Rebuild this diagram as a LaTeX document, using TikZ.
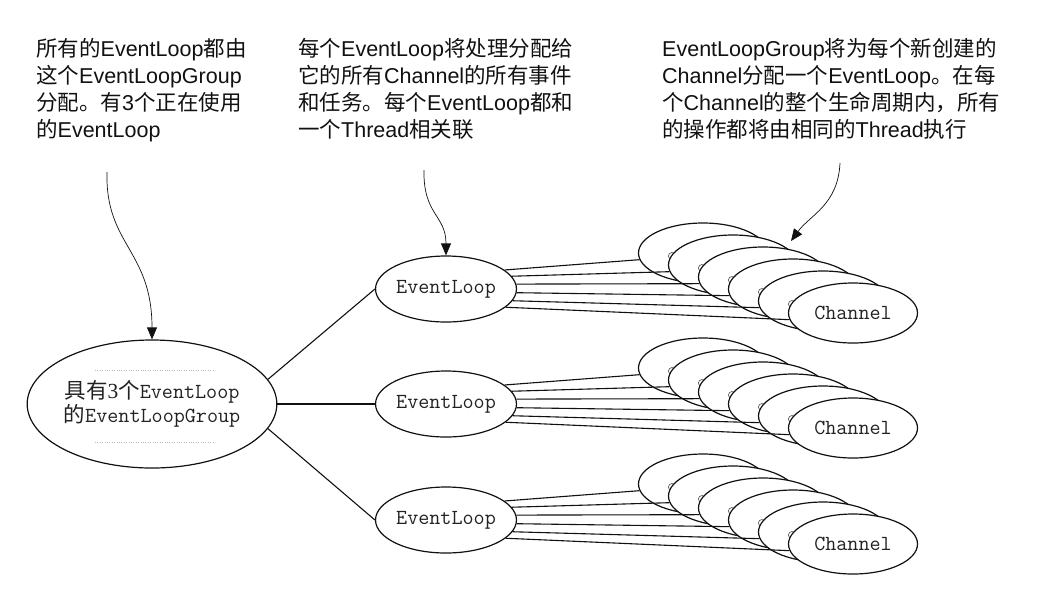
\documentclass[tikz,border=0pt]{standalone}
\usepackage{fontspec}
\setmainfont{Liberation Sans}
\newfontfamily\zhfont{Noto Sans CJK SC}
\newfontfamily\serfont{Liberation Serif}
\usetikzlibrary{positioning,arrows.meta,calc,shapes.geometric}
\newcommand{\zh}[1]{{\zhfont #1}}
\newcommand{\notesize}{\fontsize{21.5}{27}\selectfont}
\newcommand{\monosize}{\fontsize{21.5}{24}\selectfont\ttfamily}
\definecolor{cInk}{HTML}{111111}
\definecolor{cMono}{HTML}{222222}
\definecolor{cFaint}{HTML}{BBBBBB}

\begin{document}
\begin{tikzpicture}[x=1pt,y=-1pt,
    note/.style={anchor=north west,align=left,inner sep=0pt,font=\notesize,text=cInk},
    grpbox/.style={draw=cInk,ellipse,line width=1.2pt,minimum width=244pt,
                   minimum height=128pt,inner sep=0pt,align=center,font=\monosize,text=cMono},
    loopbox/.style={draw=cInk,ellipse,fill=white,line width=1.2pt,minimum width=124pt,
                    minimum height=66pt,inner sep=0pt,font=\monosize,text=cMono},
    chbox/.style={draw=cInk,ellipse,fill=white,line width=1.2pt,minimum width=129pt,
                  minimum height=60pt,inner sep=0pt,font=\monosize,text=cMono},
    link/.style={draw=cInk,line width=1.1pt},
    pointer/.style={draw=cInk,line width=0.7pt,-{Triangle[length=12pt,width=10pt]}}]
  \useasboundingbox (0,0) rectangle (1048,595);

  % notes on top
  \node[note] (noteGroup) at (36,38)
    {\zh{所有的}EventLoop\zh{都由}\\
     \zh{这个}EventLoopGroup\\
     \zh{分配。有}3\zh{个正在使用}\\
     \zh{的}EventLoop};
  \node[note] (noteLoop) at (298,38)
    {\zh{每个}EventLoop\zh{将处理分配给}\\
     \zh{它的所有}Channel\zh{的所有事件}\\
     \zh{和任务。每个}EventLoop\zh{都和}\\
     \zh{一个}Thread\zh{相关联}};
  \node[note] (noteChannel) at (662,38)
    {EventLoopGroup\zh{将为每个新创建的}\\
     Channel\zh{分配一个}EventLoop\zh{。在每}\\
     \zh{个}Channel\zh{的整个生命周期内，所有}\\
     \zh{的操作都将由相同的}Thread\zh{执行}};

  % group and loops
  \node[grpbox] (group) at (152,404)
    {\zh{具有}{\serfont 3}\zh{个}EventLoop\\ \zh{的}EventLoopGroup};
  \draw[cFaint,dotted,line width=0.4pt] (95,370) -- (215,370);
  \draw[cFaint,dotted,line width=0.4pt] (95,442) -- (215,442);

  \node[loopbox] (loopA) at (446,289) {EventLoop};
  \node[loopbox] (loopB) at (446,404) {EventLoop};
  \node[loopbox] (loopC) at (446,520) {EventLoop};

  \draw[link] (group.12) -- (loopA.west);
  \draw[link] (group.east) -- (loopB.west);
  \draw[link] (group.-12) -- (loopC.west);

  % channel stacks
  \foreach \s/\yy in {A/289,B/404,C/520}{
    \foreach \k/\a in {0/18,1/11,2/4,3/-3,4/-10,5/-17}{
      \path (703+30*\k,\yy-36+12*\k) node[chbox,draw=none,fill=none] (ch\s\k) {};
      \draw[link] (loop\s.\a) -- (ch\s\k.186);
      \ifnum\k>0
        \draw[gray!60!black,line width=0.6pt] ($(ch\s\k.west)+(4,-9)$) circle (3.5pt);
      \fi
      \node[chbox] (ch\s\k) at (ch\s\k.center) {\ifnum\k=5 Channel\fi};
    }
  }

  % pointers
  \coordinate (srcGroup) at (107,172);
  \coordinate (srcLoop) at (424,170);
  \coordinate (srcChannel) at (840,163);
  \coordinate (tipChannel) at (791,241);
  \draw[pointer] (srcGroup) .. controls (105,245) and (152,250) .. (group.north);
  \draw[pointer] (srcLoop) .. controls (423,215) and (446,215) .. (loopA.north);
  \draw[pointer] (srcChannel) .. controls (838,205) and (810,215) .. (tipChannel);
\end{tikzpicture}
\end{document}
